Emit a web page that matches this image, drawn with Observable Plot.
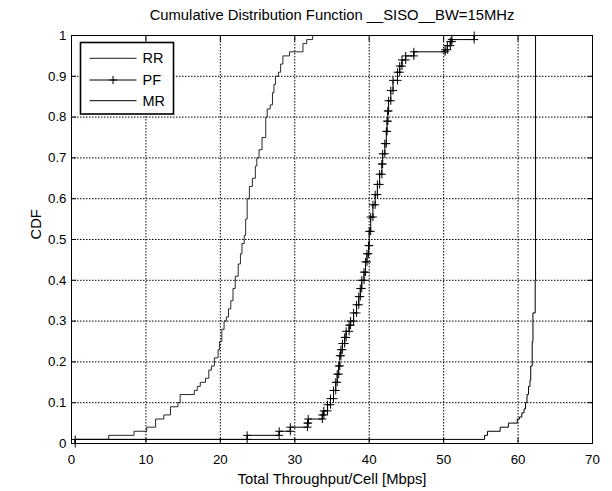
<!DOCTYPE html>
<html>
<head>
<meta charset="utf-8">
<script src="https://cdn.jsdelivr.net/npm/d3@7"></script>
<script src="https://cdn.jsdelivr.net/npm/@observablehq/plot@0.6"></script>
<style>
  html, body { margin: 0; padding: 0; background: #fff; }
  #chart svg { display: block; }
</style>
</head>
<body>
<div id="chart"></div>
<script>
// ---- data ----
const titleText = "Cumulative Distribution Function __SISO__BW=15MHz";
const xLabel = "Total Throughput/Cell [Mbps]";
const yLabel = "CDF";
const xTicks = [0, 10, 20, 30, 40, 50, 60, 70];
const yTicks = [0, 0.1, 0.2, 0.3, 0.4, 0.5, 0.6, 0.7, 0.8, 0.9, 1];
const seriesNames = ["RR", "PF", "MR"];

// step positions (x) and CDF level after each step (y)
const rrX = [0.5, 5.0, 8.4, 10.1, 11.3, 12.4, 13.3, 14.3, 14.6, 16.5, 16.9, 17.3, 18.0, 18.45, 18.8, 19.2, 19.7, 19.9, 20.2, 20.5, 20.8, 21.1, 21.4, 21.7, 22.0, 22.4, 22.7, 22.9, 23.2, 23.4, 23.6, 23.9, 24.3, 24.7, 24.9, 25.2, 25.6, 26.1, 26.3, 26.7, 27.0, 27.2, 27.4, 27.8, 28.1, 28.4, 29.3, 31.1, 31.6, 32.4];
const rrY = [0.01, 0.02, 0.03, 0.04, 0.06, 0.07, 0.09, 0.10, 0.12, 0.13, 0.14, 0.15, 0.16, 0.18, 0.19, 0.21, 0.23, 0.25, 0.28, 0.30, 0.31, 0.33, 0.35, 0.38, 0.41, 0.44, 0.465, 0.49, 0.51, 0.55, 0.60, 0.63, 0.65, 0.68, 0.70, 0.72, 0.75, 0.80, 0.82, 0.83, 0.86, 0.88, 0.90, 0.91, 0.93, 0.95, 0.96, 0.98, 0.99, 1.0];

const pfX = [0.5, 23.6, 27.9, 29.4, 31.7, 31.8, 33.7, 33.9, 34.4, 34.8, 35.2, 35.5, 35.7, 35.9, 36.05, 36.2, 36.4, 36.7, 36.9, 37.3, 37.5, 37.9, 38.3, 38.6, 38.8, 39.0, 39.3, 39.5, 39.7, 39.9, 40.0, 40.2, 40.5, 40.8, 41.1, 41.4, 41.7, 41.8, 42.1, 42.3, 42.4, 42.5, 42.6, 42.9, 43.2, 43.8, 44.1, 44.4, 44.9, 46.0, 50.2, 50.5, 50.9, 51.1, 54.1];
const pfY = [0.01, 0.02, 0.03, 0.04, 0.05, 0.06, 0.07, 0.08, 0.095, 0.11, 0.13, 0.15, 0.17, 0.19, 0.215, 0.23, 0.245, 0.26, 0.275, 0.29, 0.30, 0.32, 0.34, 0.36, 0.38, 0.40, 0.42, 0.445, 0.465, 0.485, 0.52, 0.555, 0.585, 0.61, 0.635, 0.66, 0.685, 0.71, 0.735, 0.765, 0.79, 0.815, 0.84, 0.865, 0.89, 0.91, 0.925, 0.94, 0.95, 0.96, 0.965, 0.975, 0.985, 0.99, 1.0];

const mrX = [0.5, 55.5, 55.9, 57.6, 58.7, 59.9, 60.2, 60.5, 60.8, 61.0, 61.2, 61.4, 61.6, 61.7, 61.9, 62.0, 62.3, 62.35];
const mrY = [0.01, 0.02, 0.03, 0.04, 0.05, 0.06, 0.065, 0.075, 0.085, 0.10, 0.12, 0.14, 0.155, 0.19, 0.25, 0.32, 0.40, 1.0];

// build stair vertices from the step data
function stairs(xs, ys) {
  const out = [];
  let prev = 0;
  xs.forEach((x, i) => {
    out.push({x, y: prev});
    out.push({x, y: ys[i]});
    prev = ys[i];
  });
  return out;
}
const rr = stairs(rrX, rrY);
const pf = stairs(pfX, pfY);
const mr = stairs(mrX, mrY);

const font = "'Liberation Sans', Arial, sans-serif";
const dotted = {stroke: "#000", strokeOpacity: 1, strokeDasharray: "1.5,1.5", strokeWidth: 1};

const chart = Plot.plot({
  width: 612,
  height: 491,
  marginLeft: 71,
  marginRight: 20,
  marginTop: 35,
  marginBottom: 48,
  style: {fontFamily: font, fontSize: "13.3px", background: "#fff", color: "#000", overflow: "visible"},
  x: {domain: [0, 70], ticks: xTicks},
  y: {domain: [0, 1], ticks: yTicks},
  marks: [
    Plot.ruleX(xTicks.slice(1, -1), {x: d => d, ...dotted}),
    Plot.ruleY(yTicks.slice(1, -1), {y: d => d, ...dotted}),
    Plot.line(rr, {x: "x", y: "y", stroke: "#111", strokeWidth: 0.9}),
    Plot.line(mr, {x: "x", y: "y", stroke: "#000", strokeWidth: 1}),
    Plot.line(pf, {x: "x", y: "y", stroke: "#000", strokeWidth: 1}),
    Plot.dot(pf, {x: "x", y: "y", symbol: "plus", r: 2.7, stroke: "#000", strokeWidth: 1}),
    Plot.frame({stroke: "#000", strokeWidth: 1}),
    // inward ticks on all four sides
    Plot.axisX(xTicks, {anchor: "bottom", tickSize: 5, dy: -5, tickFormat: () => "", label: null, stroke: "#000", strokeOpacity: 1}),
    Plot.axisX(xTicks, {anchor: "top", tickSize: 5, dy: 5, tickFormat: () => "", label: null, stroke: "#000", strokeOpacity: 1}),
    Plot.axisY(yTicks, {anchor: "left", tickSize: 5, dx: 5, tickFormat: () => "", label: null, stroke: "#000", strokeOpacity: 1}),
    Plot.axisY(yTicks, {anchor: "right", tickSize: 5, dx: -5, tickFormat: () => "", label: null, stroke: "#000", strokeOpacity: 1}),
    // tick labels
    Plot.axisX(xTicks, {anchor: "bottom", tickSize: 0, tickPadding: 11, label: null, fontSize: 13.3}),
    Plot.axisY(yTicks, {anchor: "left", tickSize: 0, tickPadding: 5, label: null, fontSize: 13.3, tickFormat: d => String(d)}),
    // title and axis labels
    Plot.text([titleText], {frameAnchor: "top", text: d => d, dy: -16, lineAnchor: "bottom", fontSize: 14.8, fill: "#000"}),
    Plot.text([xLabel], {frameAnchor: "bottom", text: d => d, dy: 40, lineAnchor: "bottom", fontSize: 14.8, fill: "#000"}),
    Plot.text([yLabel], {frameAnchor: "left", text: d => d, dx: -35, rotate: -90, lineAnchor: "middle", fontSize: 14.8, fill: "#000"})
  ]
});

// legend (MATLAB-style box, upper left)
const svg = d3.select(chart);
const lg = svg.append("g").attr("font-family", font).attr("font-size", 14.5).attr("text-anchor", "start");
lg.append("rect").attr("x", 80.5).attr("y", 42.5).attr("width", 93).attr("height", 71.5)
  .attr("fill", "#fff").attr("stroke", "#000").attr("stroke-width", 1.6);
const rowY = [58.3, 80, 100.7];
seriesNames.forEach((name, i) => {
  const y = rowY[i];
  lg.append("line").attr("x1", 89.5).attr("x2", 136.5).attr("y1", y).attr("y2", y)
    .attr("stroke", "#000").attr("stroke-width", i === 0 ? 0.9 : 1);
  if (name === "PF") {
    lg.append("path").attr("d", `M${113 - 4},${y}h8M${113},${y - 4}v8`).attr("stroke", "#000").attr("stroke-width", 1);
  }
  lg.append("text").attr("x", 142.5).attr("y", y).attr("dy", "0.35em").attr("text-anchor", "start").attr("fill", "#000").text(name);
});

document.getElementById("chart").appendChild(chart);
</script>
</body>
</html>
